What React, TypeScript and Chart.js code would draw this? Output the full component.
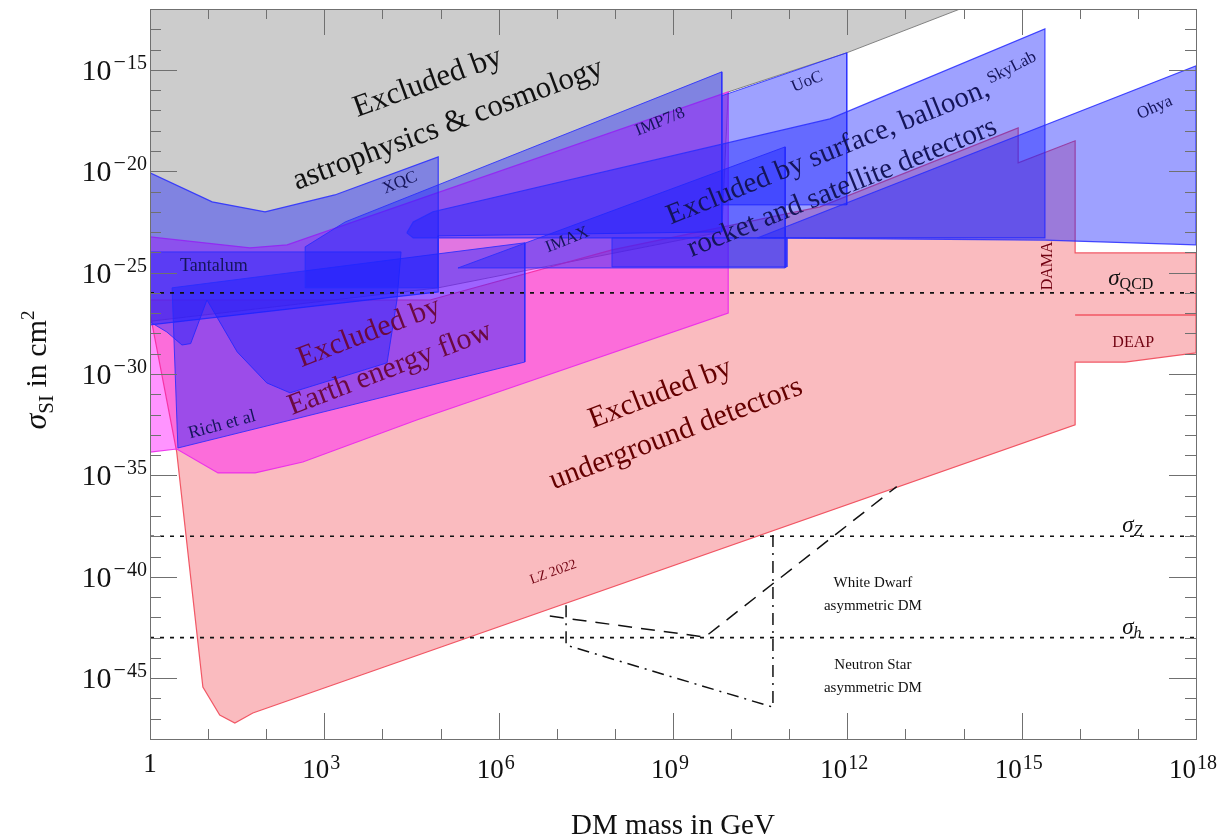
import React, { useEffect, useRef } from "react";
import { Chart, registerables } from "chart.js";

Chart.register(...registerables);

type Pt = [number, number];

// ---- axes (log10 of DM mass in GeV, log10 of sigma in cm^2) ----
const X_MIN = 0;
const X_MAX = 18;
const Y_MIN = -48;
const Y_MAX = -12;
const xTickExps = [0, 3, 6, 9, 12, 15, 18];
const yTickExps = [-15, -20, -25, -30, -35, -40, -45];

// ---- excluded regions (polygons in log10 units) ----
const astroCosmo: Pt[] = [[0, -12], [13.94, -12], [11.99, -14.16], [9.95, -16.09], [9.84, -22.99], [4.96, -25.75], [0, -27.4]];
const underground: Pt[] = [[0, -27.0], [0.46, -33.85], [0.91, -45.44], [1.2, -46.82], [1.46, -47.21], [1.77, -46.72], [15.92, -32.51], [15.92, -29.41], [16.78, -29.41], [18, -28.96], [18, -24.03], [15.92, -24.03], [15.92, -18.5], [14.94, -19.59], [14.94, -17.86], [11.53, -21.76], [7.95, -23.88], [4.82, -26.35], [0, -26.35]];
const deapLine: Pt[] = [[15.92, -27.09], [18, -27.09]];
const earthFlow: Pt[] = [[0, -23.24], [1.72, -23.78], [2.36, -23.63], [9.95, -16.09], [9.95, -26.99], [4.59, -32.27], [2.63, -34.34], [1.81, -34.88], [1.17, -34.88], [0.46, -33.7], [0, -33.85]];
const xqc: Pt[] = [[0, -20.08], [1.07, -21.51], [1.98, -22.0], [3.18, -21.17], [4.96, -19.29], [4.96, -25.95], [0, -27.58]];
const tantalum: Pt[] = [[0, -23.98], [4.32, -23.98], [4.25, -26.35], [4.08, -29.45], [2.41, -30.93], [2.01, -30.44], [1.5, -28.91], [0.98, -26.35], [0.7, -28.5], [0.55, -28.57], [0.29, -27.93], [0, -27.43]];
const richEtAl: Pt[] = [[0.38, -25.75], [6.45, -23.53], [6.45, -29.41], [0.48, -33.65]];
const imp78: Pt[] = [[2.67, -23.73], [3.36, -22.5], [9.84, -15.1], [9.84, -22.99], [4.96, -23.19], [4.96, -25.75], [2.67, -25.75]];
const imax: Pt[] = [[5.3, -24.77], [10.93, -18.8], [10.93, -24.77]];
const imaxBox: Pt[] = [[7.95, -23.29], [10.96, -23.29], [10.96, -24.72], [7.95, -24.72]];
const uoc: Pt[] = [[9.84, -16.28], [11.99, -14.16], [11.99, -21.66], [9.84, -21.66]];
const skyLab: Pt[] = [[4.42, -23.04], [4.53, -22.5], [4.87, -22.0], [11.7, -17.42], [15.4, -12.98], [15.4, -23.29], [4.53, -23.29]];
const ohya: Pt[] = [[10.45, -23.29], [18, -14.8], [18, -23.63], [15.4, -23.4]];

// ---- reference cross sections and compact-star bounds ----
const sigmaQCD = -26;
const sigmaZ = -38;
const sigmaH = -43;
const whiteDwarf: Pt[] = [[6.88, -41.94], [9.55, -42.97], [12.85, -35.55]];
const neutronStar: Pt[] = [[7.16, -41.4], [7.16, -43.37], [10.72, -46.43], [10.72, -37.79]];

// ---- text labels ----
type Label = { text: string; x: number; y: number; angle: number; size: number; color: string };
const labels: Label[] = [
  { text: "Excluded by", x: 4.78, y: -15.64, angle: -20, size: 31, color: "#111111" },
  { text: "astrophysics & cosmology", x: 5.13, y: -17.71, angle: -20.5, size: 31, color: "#111111" },
  { text: "Excluded by surface, balloon,", x: 11.67, y: -19.09, angle: -22, size: 29, color: "#15155a" },
  { text: "rocket and satellite detectors", x: 11.91, y: -20.82, angle: -22, size: 29, color: "#15155a" },
  { text: "Excluded by", x: 3.77, y: -27.97, angle: -21, size: 30, color: "#6a0a40" },
  { text: "Earth energy flow", x: 4.13, y: -29.75, angle: -21, size: 30, color: "#6a0a40" },
  { text: "Excluded by", x: 8.78, y: -30.98, angle: -21, size: 30, color: "#650000" },
  { text: "underground detectors", x: 9.05, y: -32.96, angle: -21, size: 30, color: "#650000" },
  { text: "XQC", x: 4.3, y: -20.57, angle: -22, size: 17, color: "#15155a" },
  { text: "IMP7/8", x: 8.78, y: -17.57, angle: -22, size: 17, color: "#15155a" },
  { text: "UoC", x: 11.31, y: -15.59, angle: -22, size: 17, color: "#15155a" },
  { text: "SkyLab", x: 14.83, y: -14.9, angle: -27, size: 17, color: "#15155a" },
  { text: "Ohya", x: 17.29, y: -16.87, angle: -24, size: 17, color: "#15155a" },
  { text: "IMAX", x: 7.18, y: -23.39, angle: -22, size: 17, color: "#15155a" },
  { text: "Tantalum", x: 1.1, y: -24.67, angle: 0, size: 18, color: "#15155a" },
  { text: "Rich et al", x: 1.24, y: -32.51, angle: -15, size: 18, color: "#15155a" },
  { text: "DAMA", x: 15.45, y: -24.67, angle: -90, size: 16, color: "#700010" },
  { text: "DEAP", x: 16.92, y: -28.47, angle: 0, size: 16, color: "#700010" },
  { text: "LZ 2022", x: 6.94, y: -39.77, angle: -20, size: 14, color: "#700010" },
  { text: "White Dwarf", x: 12.44, y: -40.31, angle: 0, size: 15, color: "#111111" },
  { text: "asymmetric DM", x: 12.44, y: -41.44, angle: 0, size: 15, color: "#111111" },
  { text: "Neutron Star", x: 12.44, y: -44.35, angle: 0, size: 15, color: "#111111" },
  { text: "asymmetric DM", x: 12.44, y: -45.49, angle: 0, size: 15, color: "#111111" },
];
const sigmaLabels = [
  { sub: "QCD", italicSub: false, x: 16.49, y: -25.6 },
  { sub: "Z", italicSub: true, x: 16.73, y: -37.8 },
  { sub: "h", italicSub: true, x: 16.73, y: -42.8 },
];

const SERIF = '"Liberation Serif", "Times New Roman", serif';

const GRAY_FILL = "rgb(204,204,204)";
const BLUE_FILL = "rgba(25,30,255,0.42)";
const BLUE_LINE = "rgba(40,45,255,0.85)";
const MAG_FILL = "rgba(255,0,255,0.42)";
const MAG_LINE = "rgba(235,40,235,0.9)";
const RED_FILL = "rgba(240,50,60,0.33)";
const RED_LINE = "rgba(240,80,95,0.95)";

type Run = { t: string; size: number; italic?: boolean; dy?: number; dx?: number };

function drawRuns(ctx: CanvasRenderingContext2D, runs: Run[], x: number, y: number, angle: number, align: "left" | "center" | "right", color: string) {
  ctx.save();
  ctx.translate(x, y);
  ctx.rotate((angle * Math.PI) / 180);
  ctx.textBaseline = "alphabetic";
  ctx.textAlign = "left";
  ctx.fillStyle = color;
  const widths = runs.map((r) => {
    ctx.font = `${r.italic ? "italic " : ""}${r.size}px ${SERIF}`;
    return ctx.measureText(r.t).width + (r.dx || 0);
  });
  const total = widths.reduce((a, b) => a + b, 0);
  let cx = align === "center" ? -total / 2 : align === "right" ? -total : 0;
  runs.forEach((r, i) => {
    ctx.font = `${r.italic ? "italic " : ""}${r.size}px ${SERIF}`;
    ctx.fillText(r.t, cx + (r.dx || 0), r.dy || 0);
    cx += widths[i];
  });
  ctx.restore();
}

const decorPlugin = {
  id: "decor",
  afterDatasetsDraw(chart: any) {
    const { ctx, chartArea: a, scales } = chart;
    const sx = scales.x;
    const sy = scales.y;
    ctx.save();
    // frame
    ctx.strokeStyle = "#707070";
    ctx.lineWidth = 1;
    ctx.strokeRect(Math.round(a.left) + 0.5, Math.round(a.top) + 0.5, Math.round(a.right - a.left), Math.round(a.bottom - a.top));
    // ticks
    ctx.beginPath();
    for (let e = X_MIN + 1; e < X_MAX; e++) {
      const px = Math.round(sx.getPixelForValue(e)) + 0.5;
      const len = e % 3 === 0 ? 26 : 10;
      ctx.moveTo(px, a.bottom);
      ctx.lineTo(px, a.bottom - len);
      ctx.moveTo(px, a.top);
      ctx.lineTo(px, a.top + len);
    }
    for (let e = Y_MIN + 1; e < Y_MAX; e++) {
      const py = Math.round(sy.getPixelForValue(e)) + 0.5;
      const len = e % 5 === 0 ? 27 : 11;
      ctx.moveTo(a.left, py);
      ctx.lineTo(a.left + len, py);
      ctx.moveTo(a.right, py);
      ctx.lineTo(a.right - len, py);
    }
    ctx.stroke();

    // tick labels
    xTickExps.forEach((e) => {
      const px = sx.getPixelForValue(e);
      if (e === 0) {
        drawRuns(ctx, [{ t: "1", size: 27 }], px, a.bottom + 33, 0, "center", "#111");
      } else {
        drawRuns(ctx, [{ t: "10", size: 27 }, { t: String(e), size: 20, dy: -9, dx: 1 }], px - 3, a.bottom + 39, 0, "center", "#111");
      }
    });
    yTickExps.forEach((e) => {
      const py = sy.getPixelForValue(e);
      drawRuns(
        ctx,
        [
          { t: "10", size: 30 },
          { t: "\u2212", size: 22, dy: -11, dx: 2 },
          { t: String(-e), size: 20, dy: -11, dx: 1 },
        ],
        a.left - 3,
        py + 10,
        0,
        "right",
        "#111"
      );
    });

    // axis titles
    drawRuns(ctx, [{ t: "DM mass in GeV", size: 29 }], (a.left + a.right) / 2, a.bottom + 95, 0, "center", "#111");
    drawRuns(
      ctx,
      [
        { t: "\u03c3", size: 32, italic: true },
        { t: "SI", size: 21, dy: 7 },
        { t: " in cm", size: 30 },
        { t: "2", size: 19, dy: -12 },
      ],
      46,
      370,
      -90,
      "center",
      "#111"
    );

    // region labels
    labels.forEach((l) => {
      ctx.save();
      ctx.translate(sx.getPixelForValue(l.x), sy.getPixelForValue(l.y));
      ctx.rotate((l.angle * Math.PI) / 180);
      ctx.font = `${l.size}px ${SERIF}`;
      ctx.fillStyle = l.color;
      ctx.textAlign = "center";
      ctx.textBaseline = "middle";
      ctx.fillText(l.text, 0, 0);
      ctx.restore();
    });

    // sigma labels
    sigmaLabels.forEach((s) => {
      drawRuns(
        ctx,
        [
          { t: "\u03c3", size: 23, italic: true },
          { t: s.sub, size: 16, italic: s.italicSub, dy: 4 },
        ],
        sx.getPixelForValue(s.x),
        sy.getPixelForValue(s.y),
        0,
        "left",
        "#111"
      );
    });
    ctx.restore();
  },
};

function poly(pts: Pt[], fill: string | null, line: string, width = 1, dash: number[] = []) {
  const data = pts.map(([x, y]) => ({ x, y }));
  if (fill) data.push({ x: pts[0][0], y: pts[0][1] });
  return {
    data,
    showLine: true,
    fill: fill ? "shape" : false,
    backgroundColor: fill || "transparent",
    borderColor: line,
    borderWidth: width,
    borderDash: dash,
    pointRadius: 0,
    pointHoverRadius: 0,
    tension: 0,
  };
}

export default function App() {
  const canvasRef = useRef<HTMLCanvasElement | null>(null);

  useEffect(() => {
    const canvas = canvasRef.current;
    if (!canvas) return;

    const layers: any[] = [
      poly(astroCosmo, GRAY_FILL, "rgba(120,120,120,0.9)", 1),
      poly(underground, RED_FILL, RED_LINE, 1.2),
      poly(deapLine, null, RED_LINE, 1.5),
      poly(earthFlow, MAG_FILL, MAG_LINE, 1.2),
      poly(xqc, BLUE_FILL, BLUE_LINE, 1.2),
      poly(tantalum, BLUE_FILL, BLUE_LINE, 1),
      poly(richEtAl, BLUE_FILL, BLUE_LINE, 1),
      poly(imp78, BLUE_FILL, BLUE_LINE, 1),
      poly(uoc, BLUE_FILL, BLUE_LINE, 1),
      poly(imax, BLUE_FILL, BLUE_LINE, 1),
      poly(imaxBox, BLUE_FILL, BLUE_LINE, 1),
      poly(skyLab, BLUE_FILL, BLUE_LINE, 1.2),
      poly(ohya, BLUE_FILL, BLUE_LINE, 1.2),
      poly([[X_MIN, sigmaQCD], [X_MAX, sigmaQCD]], null, "#111", 1.6, [4, 6]),
      poly([[X_MIN, sigmaZ], [X_MAX, sigmaZ]], null, "#111", 1.6, [4, 6]),
      poly([[X_MIN, sigmaH], [X_MAX, sigmaH]], null, "#111", 1.6, [4, 6]),
      poly(whiteDwarf, null, "#111", 1.5, [14, 9]),
      poly(neutronStar, null, "#111", 1.5, [12, 6, 2, 6]),
    ];
    layers.forEach((d, i) => {
      d.order = layers.length - i;
    });

    const chart = new Chart(canvas, {
      type: "scatter",
      data: { datasets: layers },
      options: {
        animation: false,
        responsive: false,
        devicePixelRatio: 1,
        layout: { padding: { left: 150, right: 24, top: 9, bottom: 99 } },
        scales: {
          x: { type: "linear", min: X_MIN, max: X_MAX, display: false },
          y: { type: "linear", min: Y_MIN, max: Y_MAX, display: false },
        },
        plugins: {
          legend: { display: false },
          tooltip: { enabled: false },
          filler: { drawTime: "beforeDatasetDraw" },
        },
        events: [],
      },
      plugins: [decorPlugin],
    } as any);

    return () => chart.destroy();
  }, []);

  return (
    <div style={{ position: "fixed", left: 0, top: 0, width: 1220, height: 838, background: "#fff" }}>
      <canvas ref={canvasRef} width={1220} height={838} style={{ display: "block" }} />
    </div>
  );
}
